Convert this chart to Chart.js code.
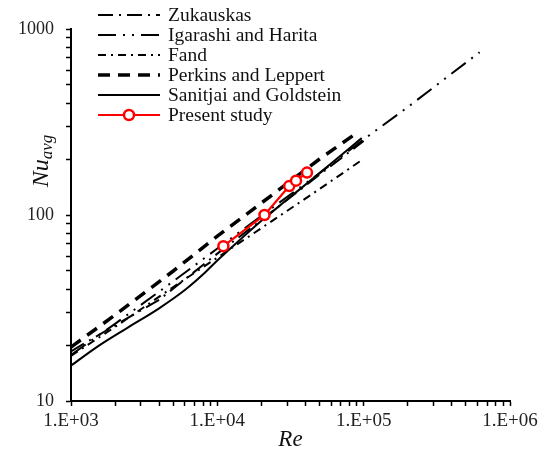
<!DOCTYPE html>
<html>
<head>
<meta charset="utf-8">
<script src="https://cdn.jsdelivr.net/npm/chart.js@4.4.1/dist/chart.umd.min.js"></script>
<style>
  html, body { margin: 0; padding: 0; background: #fff; }
  #wrap { width: 546px; height: 449px; }
</style>
</head>
<body>
<div id="wrap"><canvas id="nuChart" width="546" height="449"></canvas></div>
<script>
// correlations from the literature, Re vs. average Nusselt number
const zukauskasRe = [1000, 2000, 4000, 10000, 20000, 50000, 100000];
const zukauskasNu = [18.5, 25.5, 35, 62, 94, 165, 250];

const igarashiRe = [1000, 2000, 5000, 10000, 20000, 50000, 100000, 200000, 620000];
const igarashiNu = [17.7, 26, 44, 66, 99, 168, 255, 380, 750];

const fandRe = [1000, 2000, 5000, 10000, 20000, 50000, 94000];
const fandNu = [17.5, 25, 41, 59, 85, 138, 194];

const perkinsRe = [1000, 2000, 5000, 10000, 20000, 50000, 92000];
const perkinsNu = [19.5, 29, 50, 77, 116, 200, 280];

const sanitjaiRe = [1000, 1500, 2400, 4000, 6000, 8000, 10000, 11500, 20000, 30000, 50000, 97000];
const sanitjaiNu = [15.5, 19.5, 24.6, 31.5, 39.5, 48, 57, 63, 93, 121, 168, 259];

// measured points
const presentRe = [11000, 21000, 31000, 34500, 41000];
const presentNu = [68, 100, 143, 153, 169];

const xTicks = [1000, 10000, 100000, 1000000];
const yTicks = [10, 100, 1000];

const serif = '"Liberation Serif", "Times New Roman", serif';

function pts(xs, ys) {
  return xs.map((x, i) => ({ x: x, y: ys[i] }));
}

// every 1..9 x 10^n between the decades, for the small tick marks
function logTicks(decades) {
  const out = [];
  for (let d = 0; d < decades.length - 1; d++) {
    for (let m = 1; m < 10; m++) out.push({ value: m * decades[d] });
  }
  out.push({ value: decades[decades.length - 1] });
  return out;
}

function isDecade(v) {
  const e = Math.log10(v);
  return Math.abs(e - Math.round(e)) < 1e-9;
}

const lineBase = { pointRadius: 0, fill: false, tension: 0, borderColor: '#000', order: 2 };

// legend drawn inside the plot, line samples taken from the datasets
const sampleLegend = {
  id: 'sampleLegend',
  afterDraw(chart) {
    const ctx = chart.ctx;
    ctx.save();
    chart.data.datasets.forEach((ds, i) => {
      const y = 15 + i * 20;
      ctx.strokeStyle = ds.borderColor;
      ctx.lineWidth = ds.borderWidth;
      ctx.setLineDash(ds.borderDash || []);
      ctx.beginPath();
      ctx.moveTo(98, y);
      ctx.lineTo(160, y);
      ctx.stroke();
      ctx.setLineDash([]);
      if (ds.pointRadius > 0) {
        ctx.beginPath();
        ctx.arc(129, y, ds.pointRadius, 0, Math.PI * 2);
        ctx.fillStyle = ds.pointBackgroundColor;
        ctx.fill();
        ctx.lineWidth = ds.pointBorderWidth;
        ctx.strokeStyle = ds.pointBorderColor;
        ctx.stroke();
      }
      ctx.fillStyle = '#111';
      ctx.font = '19.5px ' + serif;
      ctx.textBaseline = 'middle';
      ctx.textAlign = 'left';
      ctx.fillText(ds.label, 168, y + 1);
    });
    ctx.restore();
  }
};

// axis titles: italic Re and Nu with "avg" subscript
const axisTitles = {
  id: 'axisTitles',
  afterDraw(chart) {
    const ctx = chart.ctx;
    const area = chart.chartArea;
    ctx.save();
    ctx.fillStyle = '#111';
    ctx.textBaseline = 'alphabetic';
    ctx.font = 'italic 23px ' + serif;
    ctx.textAlign = 'center';
    ctx.fillText('Re', (area.left + area.right) / 2, 446);

    ctx.translate(48, 161);
    ctx.rotate(-Math.PI / 2);
    ctx.font = 'italic 24px ' + serif;
    const nuW = ctx.measureText('Nu').width;
    ctx.font = 'italic 17px ' + serif;
    const subW = ctx.measureText('avg').width;
    const x0 = -(nuW + subW) / 2;
    ctx.textAlign = 'left';
    ctx.font = 'italic 24px ' + serif;
    ctx.fillText('Nu', x0, 0);
    ctx.font = 'italic 17px ' + serif;
    ctx.fillText('avg', x0 + nuW, 4);
    ctx.restore();
  }
};

new Chart(document.getElementById('nuChart'), {
  type: 'line',
  data: {
    datasets: [
      Object.assign({}, lineBase, {
        label: 'Zukauskas',
        data: pts(zukauskasRe, zukauskasNu),
        borderWidth: 2,
        borderDash: [15, 6, 2, 6]
      }),
      Object.assign({}, lineBase, {
        label: 'Igarashi and Harita',
        data: pts(igarashiRe, igarashiNu),
        borderWidth: 2,
        borderDash: [18, 7, 2, 7, 2, 7]
      }),
      Object.assign({}, lineBase, {
        label: 'Fand',
        data: pts(fandRe, fandNu),
        borderWidth: 2,
        borderDash: [8, 5, 2, 5]
      }),
      Object.assign({}, lineBase, {
        label: 'Perkins and Leppert',
        data: pts(perkinsRe, perkinsNu),
        borderWidth: 3.5,
        borderDash: [12, 8]
      }),
      Object.assign({}, lineBase, {
        label: 'Sanitjai and Goldstein',
        data: pts(sanitjaiRe, sanitjaiNu),
        borderWidth: 2,
        cubicInterpolationMode: 'monotone'
      }),
      {
        label: 'Present study',
        data: pts(presentRe, presentNu),
        order: 0,
        borderColor: '#ff0000',
        borderWidth: 2.2,
        pointRadius: 5,
        pointBorderWidth: 2.5,
        pointBorderColor: '#ff0000',
        pointBackgroundColor: '#ffffff',
        tension: 0,
        fill: false
      }
    ]
  },
  options: {
    responsive: false,
    animation: false,
    layout: { padding: { top: 29, right: 36, left: 0, bottom: 0 } },
    plugins: {
      legend: { display: false },
      tooltip: { enabled: false }
    },
    scales: {
      x: {
        type: 'logarithmic',
        min: 1000,
        max: 1000000,
        afterBuildTicks: (s) => { s.ticks = logTicks(xTicks); },
        afterFit: (s) => { s.height = 48; },
        border: { display: true, color: '#000', width: 2 },
        grid: { drawOnChartArea: false, drawTicks: true, tickLength: 5, tickColor: '#000', tickWidth: 1.5 },
        ticks: {
          autoSkip: false,
          maxRotation: 0,
          padding: 4,
          color: '#222',
          font: { family: serif, size: 19 },
          callback: (v) => isDecade(v) ? '1.E+' + String(Math.round(Math.log10(v))).padStart(2, '0') : ''
        }
      },
      y: {
        type: 'logarithmic',
        min: 10,
        max: 1000,
        afterBuildTicks: (s) => { s.ticks = logTicks(yTicks); },
        afterFit: (s) => { s.width = 71; },
        border: { display: true, color: '#000', width: 2 },
        grid: { drawOnChartArea: false, drawTicks: true, tickLength: 5, tickColor: '#000', tickWidth: 1.5 },
        ticks: {
          autoSkip: false,
          padding: 12,
          color: '#222',
          font: { family: serif, size: 18 },
          callback: (v) => isDecade(v) ? String(Math.round(v)) : ''
        }
      }
    }
  },
  plugins: [sampleLegend, axisTitles]
});
</script>
</body>
</html>
